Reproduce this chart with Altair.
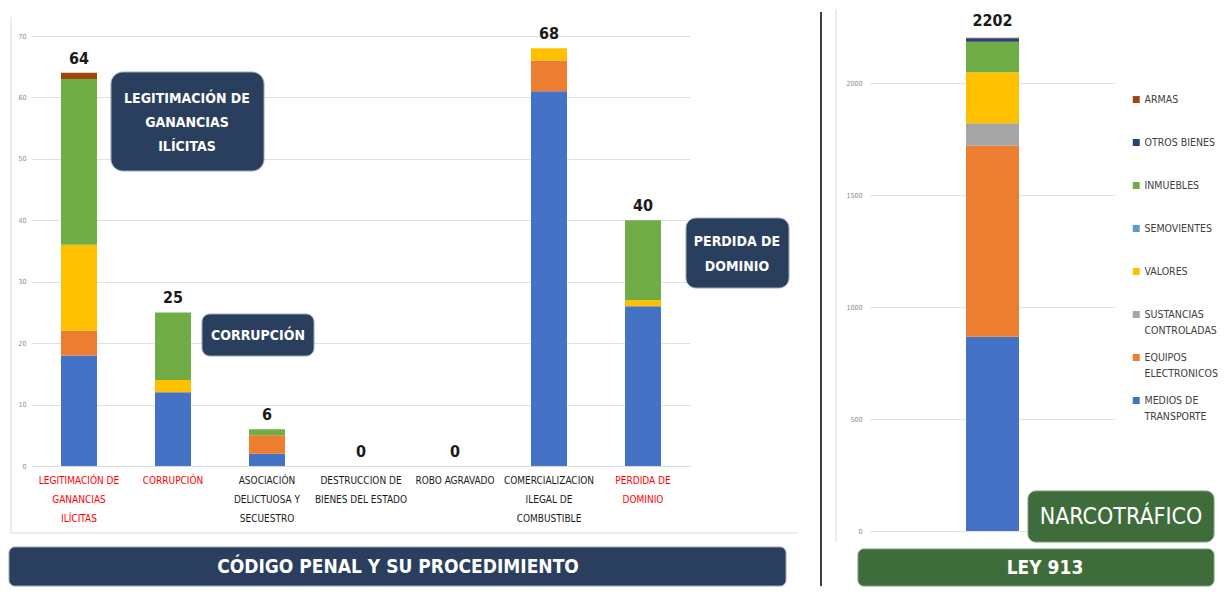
import json
import altair as alt
import pandas as pd

FONT = "Liberation Sans Narrow, DejaVu Sans Condensed, sans-serif"

# ---------------- data ----------------
categorias = [
    "LEGITIMACIÓN DE\nGANANCIAS\nILÍCITAS",
    "CORRUPCIÓN",
    "ASOCIACIÓN\nDELICTUOSA Y\nSECUESTRO",
    "DESTRUCCION DE\nBIENES DEL ESTADO",
    "ROBO AGRAVADO",
    "COMERCIALIZACION\nILEGAL DE\nCOMBUSTIBLE",
    "PERDIDA DE\nDOMINIO",
]
destacadas = [categorias[0], categorias[1], categorias[6]]

series = ["MEDIOS DE TRANSPORTE", "EQUIPOS ELECTRONICOS", "SUSTANCIAS CONTROLADAS",
          "VALORES", "SEMOVIENTES", "INMUEBLES", "OTROS BIENES", "ARMAS"]
colores = ["#4472C4", "#ED7D31", "#A5A5A5", "#FFC000", "#5B9BD5", "#70AD47", "#264478", "#9E480E"]

medios_transporte = [18, 12, 2, 0, 0, 61, 26]
equipos_electronicos = [4, 0, 3, 0, 0, 5, 0]
sustancias_controladas = [0, 0, 0, 0, 0, 0, 0]
valores = [14, 2, 0, 0, 0, 2, 1]
semovientes = [0, 0, 0, 0, 0, 0, 0]
inmuebles = [27, 11, 1, 0, 0, 0, 13]
otros_bienes = [0, 0, 0, 0, 0, 0, 0]
armas = [1, 0, 0, 0, 0, 0, 0]

grupo_ley = "LEY 913"
ley913 = [867, 853, 101, 227, 0, 136, 16, 2]

ticks_izq = [0, 10, 20, 30, 40, 50, 60, 70]
ticks_der = [0, 500, 1000, 1500, 2000]

# ---------------- tables ----------------
penal = [medios_transporte, equipos_electronicos, sustancias_controladas, valores,
         semovientes, inmuebles, otros_bienes, armas]
rows = []
for i, (serie, vals) in enumerate(zip(series, penal)):
    for cat, v in zip(categorias, vals):
        rows.append({"categoria": cat, "serie": serie, "valor": v, "orden": i})
df_izq = pd.DataFrame(rows)

df_der = pd.DataFrame({"grupo": [grupo_ley] * len(series), "serie": series,
                       "valor": ley913, "orden": list(range(len(series)))})

NAVY = "#2A3E5E"
GREEN = "#3E6C3B"
GRID = "#E1E1E1"
ONE = alt.Data(values=[{}])


def caja(x1, x2, y1, y2, fill, radius, stroke="#9AA8BC"):
    return alt.Chart(ONE).mark_rect(cornerRadius=radius, fill=fill, stroke=stroke,
                                    strokeWidth=1).encode(
        x=alt.value(x1), x2=alt.value(x2), y=alt.value(y1), y2=alt.value(y2))


def texto(x, y, lines, size, weight="bold", lh=None):
    kw = dict(text=lines, font=FONT, fontSize=size, fontWeight=weight, color="white",
              align="center", baseline="middle")
    if lh is not None:
        kw["lineHeight"] = lh
    return alt.Chart(ONE).mark_text(**kw).encode(x=alt.value(x), y=alt.value(y))


def regla(x1, x2, y1, y2, color, width=1):
    return alt.Chart(ONE).mark_rule(color=color, strokeWidth=width).encode(
        x=alt.value(x1), x2=alt.value(x2), y=alt.value(y1), y2=alt.value(y2))


# ---------------- left panel ----------------
test_red = "indexof(" + json.dumps(destacadas, ensure_ascii=False) + ", datum.value) >= 0"
x_izq = alt.X("categoria:N", sort=categorias, title=None,
              scale=alt.Scale(paddingInner=0, paddingOuter=0),
              axis=alt.Axis(labelAngle=0, labelExpr="split(datum.label, '\\n')",
                            labelFont=FONT, labelFontSize=10, labelLineHeight=19,
                            labelPadding=9, ticks=False, domainColor="#D9D9D9",
                            labelLimit=300, labelOverlap=False, grid=False,
                            labelColor={"condition": {"test": test_red, "value": "#FF0000"},
                                        "value": "#1A1A1A"}))
y_izq = alt.Y("valor:Q", stack="zero", title=None,
              scale=alt.Scale(domain=[0, 70], nice=False),
              axis=alt.Axis(values=ticks_izq, grid=True, gridColor=GRID, domain=False,
                            ticks=False, labelFontSize=7, labelColor="#8C8C8C",
                            labelPadding=6, labelFont=FONT, format="d"))

bars_izq = alt.Chart(df_izq).mark_bar(size=36).encode(
    x=x_izq, y=y_izq,
    color=alt.Color("serie:N", scale=alt.Scale(domain=series[::-1], range=colores[::-1]),
                    legend=None),
    order=alt.Order("orden:Q", sort="ascending"),
)
tot_izq = alt.Chart(df_izq).transform_aggregate(
    total="sum(valor)", groupby=["categoria"]
).mark_text(font=FONT, fontSize=16, fontWeight="bold", baseline="bottom", dy=-6,
            color="#1A1A1A").encode(
    x=alt.X("categoria:N", sort=categorias), y=alt.Y("total:Q"), text="total:Q")

izq = alt.layer(
    regla(-21, -21, -19, 497, "#D9D9D9"),
    regla(-21, 766, 497, 497, "#D9D9D9"),
    bars_izq, tot_izq,
    caja(79, 232, 36, 135, NAVY, 12),
    texto(155, 63, ["LEGITIMACIÓN DE", "GANANCIAS", "ILÍCITAS"], 14, lh=24),
    caja(170, 282, 278, 320, NAVY, 8),
    texto(226, 300, "CORRUPCIÓN", 14),
    caja(654, 757, 182, 252, NAVY, 10),
    texto(705, 206, ["PERDIDA DE", "DOMINIO"], 14, lh=25),
    caja(-23, 754, 511, 550, NAVY, 6),
    texto(366, 531, "CÓDIGO PENAL Y SU PROCEDIMIENTO", 19),
).properties(width=658, height=430)

# ---------------- right panel ----------------
label_expr = ("datum.label == 'SUSTANCIAS CONTROLADAS' ? ['SUSTANCIAS', 'CONTROLADAS'] : "
              "datum.label == 'EQUIPOS ELECTRONICOS' ? ['EQUIPOS', 'ELECTRONICOS'] : "
              "datum.label == 'MEDIOS DE TRANSPORTE' ? ['MEDIOS DE', 'TRANSPORTE'] : datum.label")

bars_der = alt.Chart(df_der).mark_bar(size=53).encode(
    x=alt.X("grupo:N", title=None, axis=None),
    y=alt.Y("valor:Q", stack="zero", title=None,
            scale=alt.Scale(domain=[0, 2210], nice=False),
            axis=alt.Axis(values=ticks_der, grid=True, gridColor=GRID, domain=False,
                          ticks=False, labelFontSize=7, labelColor="#8C8C8C",
                          labelPadding=8, labelFont=FONT, format="d")),
    color=alt.Color("serie:N", scale=alt.Scale(domain=series[::-1], range=colores[::-1]),
                    legend=alt.Legend(title=None, orient="none", legendX=261, legendY=42,
                                      symbolType="square", symbolSize=49,
                                      symbolStrokeWidth=0, labelFont=FONT,
                                      labelFontSize=10.5, labelColor="#404040",
                                      labelOffset=3, clipHeight=43, rowPadding=0,
                                      padding=0, labelExpr=label_expr, labelLimit=300)),
    order=alt.Order("orden:Q", sort="ascending"),
)
tot_der = alt.Chart(df_der).transform_aggregate(
    total="sum(valor)", groupby=["grupo"]
).mark_text(font=FONT, fontSize=16, fontWeight="bold", baseline="bottom", dy=-9,
            color="#1A1A1A").encode(
    x=alt.X("grupo:N"), y=alt.Y("total:Q"), text="total:Q")

der = alt.layer(
    regla(-49, -49, -24, 550, "#3F3F3F", 2),
    regla(-34, -34, -27, 506, "#D9D9D9"),
    bars_der, tot_der,
    caja(158, 344, 455, 506, GREEN, 8, "#7F9A7C"),
    texto(251, 481, "NARCOTRÁFICO", 23, weight="normal"),
    caja(-12, 344, 513, 550, GREEN, 6, "#7F9A7C"),
    texto(175, 532, "LEY 913", 19),
).properties(width=245, height=495)

chart = alt.hconcat(izq, der, spacing=21).resolve_scale(
    x="independent", y="independent", color="independent"
).properties(padding=0, background="white").configure(
    view=alt.ViewConfig(strokeWidth=0),
    style={"guide-label": {"lineHeight": 16}},
)

chart.save("out.html", embed_options={"renderer": "svg", "actions": False})
